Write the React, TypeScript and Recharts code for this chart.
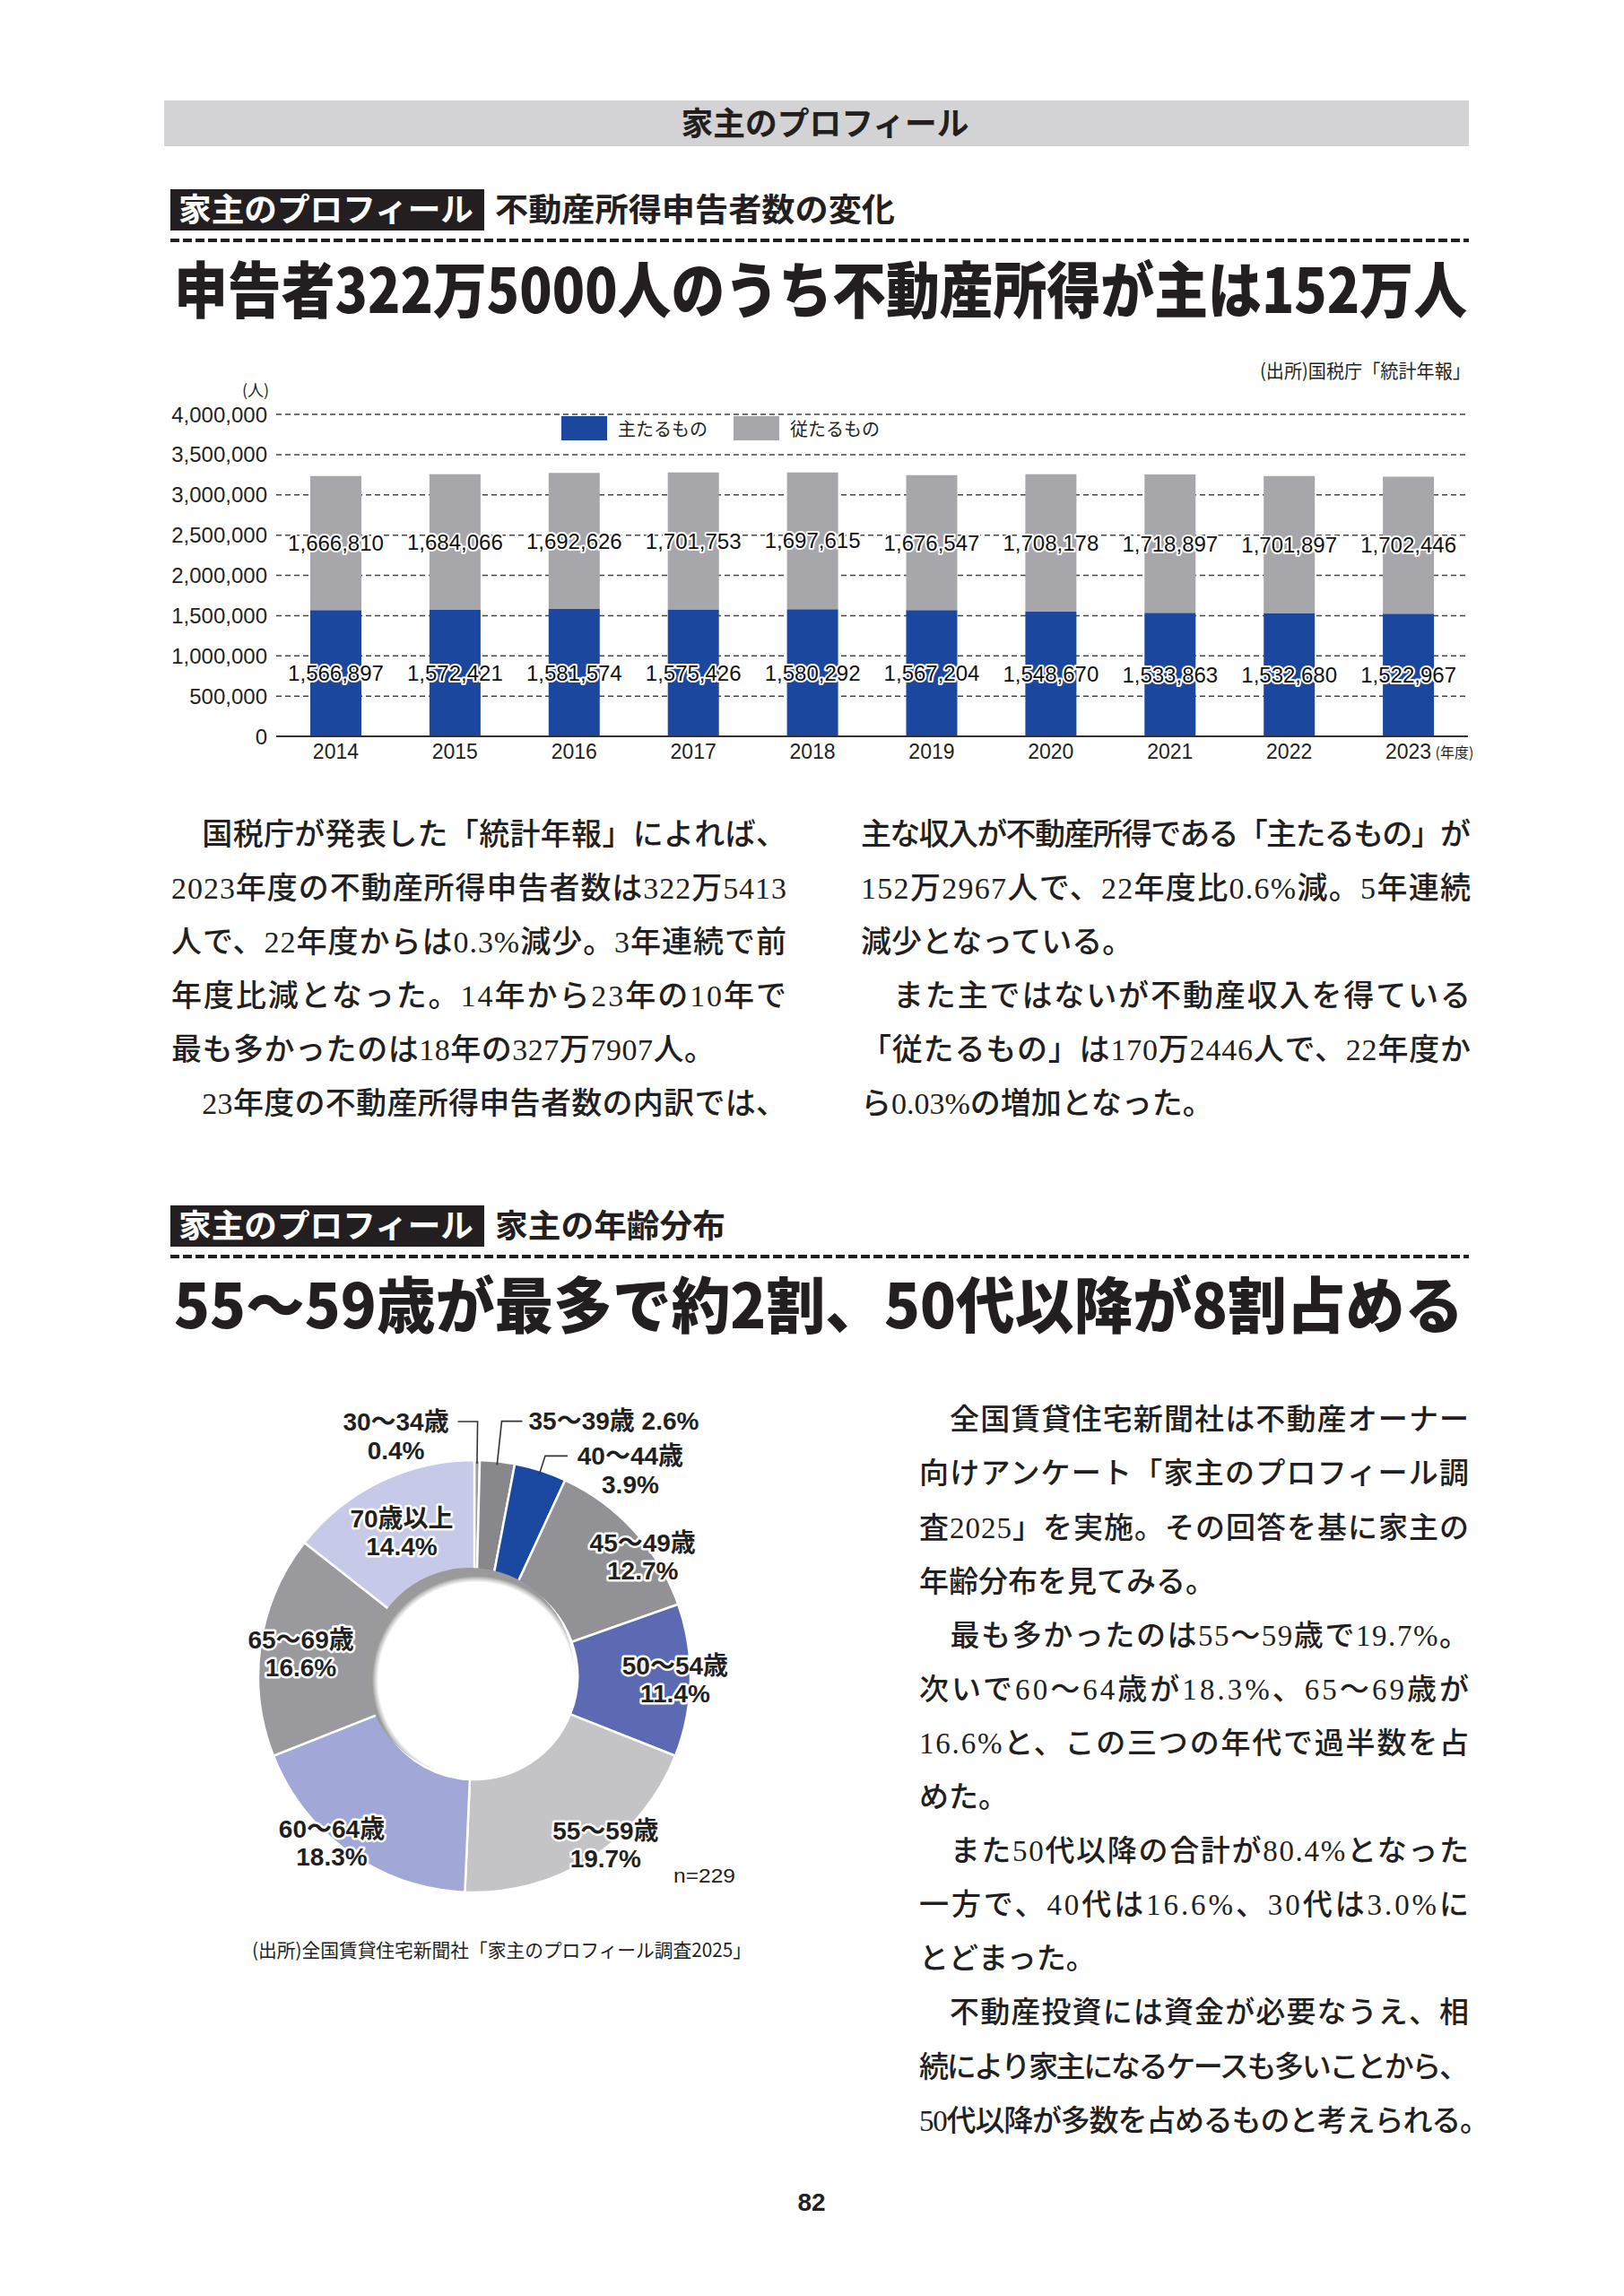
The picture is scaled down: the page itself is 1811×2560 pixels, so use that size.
import React from 'react';
import {
  BarChart, Bar, XAxis, YAxis, CartesianGrid, LabelList, Legend,
  PieChart, Pie, Cell,
} from 'recharts';

// ---------- data ----------
const years = ['2014', '2015', '2016', '2017', '2018', '2019', '2020', '2021', '2022', '2023'];
const mainIncome = [1566897, 1572421, 1581574, 1575426, 1580292, 1567204, 1548670, 1533863, 1532680, 1522967];
const subIncome = [1666810, 1684066, 1692626, 1701753, 1697615, 1676547, 1708178, 1718897, 1701897, 1702446];
const yTicks = [0, 500000, 1000000, 1500000, 2000000, 2500000, 3000000, 3500000, 4000000];
const seriesNames = ['主たるもの', '従たるもの'];

const ageGroups = ['30〜34歳', '35〜39歳', '40〜44歳', '45〜49歳', '50〜54歳', '55〜59歳', '60〜64歳', '65〜69歳', '70歳以上'];
const agePct = [0.4, 2.6, 3.9, 12.7, 11.4, 19.7, 18.3, 16.6, 14.4];

// ---------- text ----------
const pageTitle = '家主のプロフィール';
const tagText = '家主のプロフィール';
const sub1 = '不動産所得申告者数の変化';
const head1 = '申告者322万5000人のうち不動産所得が主は152万人';
const src1 = '(出所)国税庁「統計年報」';
const sub2 = '家主の年齢分布';
const head2 = '55〜59歳が最多で約2割、50代以降が8割占める';
const src2 = '(出所)全国賃貸住宅新聞社「家主のプロフィール調査2025」';
const nText = 'n=229';
const pageNo = '82';

const s1Left = [
  '　国税庁が発表した「統計年報」によれば、',
  '2023年度の不動産所得申告者数は322万5413',
  '人で、22年度からは0.3%減少。3年連続で前',
  '年度比減となった。14年から23年の10年で',
  '最も多かったのは18年の327万7907人。',
  '　23年度の不動産所得申告者数の内訳では、',
];
const s1Right = [
  '主な収入が不動産所得である「主たるもの」が',
  '152万2967人で、22年度比0.6%減。5年連続',
  '減少となっている。',
  '　また主ではないが不動産収入を得ている',
  '「従たるもの」は170万2446人で、22年度か',
  'ら0.03%の増加となった。',
];
const s2Right = [
  '　全国賃貸住宅新聞社は不動産オーナー',
  '向けアンケート「家主のプロフィール調',
  '査2025」を実施。その回答を基に家主の',
  '年齢分布を見てみる。',
  '　最も多かったのは55〜59歳で19.7%。',
  '次いで60〜64歳が18.3%、65〜69歳が',
  '16.6%と、この三つの年代で過半数を占',
  'めた。',
  '　また50代以降の合計が80.4%となった',
  '一方で、40代は16.6%、30代は3.0%に',
  'とどまった。',
  '　不動産投資には資金が必要なうえ、相',
  '続により家主になるケースも多いことから、',
  '50代以降が多数を占めるものと考えられる。',
];

// ---------- layout / style ----------
// 0 = natural width (paragraph end)
const s1LeftLens = [686, 686, 686, 686, 606, 686];
const s1RightLens = [680, 680, 0, 680, 680, 0];
const s2RightLens = [613, 613, 613, 0, 613, 613, 613, 0, 613, 613, 0, 613, 613, 636];

const BLUE = '#1b479f';
const GRAY = '#a7a7ab';
const PIE_COLORS = ['#9c9ca0', '#88888c', '#1b48a0', '#929296', '#5b6ab3', '#c4c4c7', '#a1a7d6', '#9a9a9e', '#c6c9e8'];
const INK = '#231f20';
const GOTHIC = "'Noto Sans CJK JP', sans-serif";
const BODY = "'Liberation Serif', 'Noto Sans CJK JP', serif";
const LATIN = "'Liberation Sans', 'Noto Sans CJK JP', sans-serif";

const barData = years.map((y, i) => ({ year: y, main: mainIncome[i], sub: subIncome[i] }));
const pieData = ageGroups.map((n, i) => ({ name: n, value: agePct[i] }));

const fmt = (v: number) => Number(v).toLocaleString('en-US');

// label layout for the donut
const insideLayout: Record<number, { r: number; da: number }> = {
  3: { r: 230, da: -7 },
  4: { r: 224, da: 0 },
  5: { r: 238, da: 5 },
  6: { r: 245, da: -5 },
  7: { r: 195, da: 1 },
  8: { r: 179, da: 1 },
};
const outsideLayout: Record<number, { elbowR: number; dir: number; run: number; gap: number; half: number; single?: boolean }> = {
  0: { elbowR: 284, dir: -1, run: 22, gap: 10, half: 59 },
  1: { elbowR: 286, dir: 1, run: 23, gap: 7, half: 0, single: true },
  2: { elbowR: 258, dir: 1, run: 25, gap: 11, half: 59 },
};

type TP = {
  x: number; y: number; s: number; w?: number; f?: string; c?: string;
  len?: number; adj?: string; anchor?: string; children: React.ReactNode;
};
function T({ x, y, s, w = 400, f = GOTHIC, c = INK, len, adj = 'spacing', anchor = 'start', children }: TP) {
  const L = len && len > 0 ? len : undefined;
  return (
    <text
      x={x}
      y={y}
      fontSize={s}
      fontWeight={w}
      fontFamily={f}
      fill={c}
      textAnchor={anchor as any}
      textLength={L}
      lengthAdjust={L ? (adj as any) : undefined}
    >
      {children}
    </text>
  );
}

const RAD = Math.PI / 180;
const pieTextStyle = {
  fontFamily: LATIN,
  fontWeight: 700,
  fontSize: 28,
  fill: INK,
  stroke: '#ffffff',
  strokeWidth: 5,
  paintOrder: 'stroke',
  strokeLinejoin: 'round',
} as any;

function renderPieLabel(props: any) {
  const { cx, cy, midAngle, index, name, value } = props;
  const pct = `${Number(value).toFixed(1)}%`;
  if (insideLayout[index]) {
    const { r, da } = insideLayout[index];
    const a = (midAngle + da) * RAD;
    const x = cx + r * Math.cos(a);
    const y = cy - r * Math.sin(a);
    return (
      <g key={`l${index}`}>
        <text x={x} y={y - 15.5} textAnchor="middle" dominantBaseline="central" {...pieTextStyle}>{name}</text>
        <text x={x} y={y + 15.5} textAnchor="middle" dominantBaseline="central" {...pieTextStyle}>{pct}</text>
      </g>
    );
  }
  const o = outsideLayout[index];
  if (!o) return null;
  const a = midAngle * RAD;
  const ex = cx + 237 * Math.cos(a);
  const ey = cy - 237 * Math.sin(a);
  const bx = cx + o.elbowR * Math.cos(a);
  const by = cy - o.elbowR * Math.sin(a);
  const hx = bx + o.dir * o.run;
  const pts = `${ex},${ey} ${bx},${by} ${hx},${by}`;
  if (o.single) {
    return (
      <g key={`l${index}`}>
        <polyline points={pts} fill="none" stroke="#333" strokeWidth={1.6} />
        <text x={hx + o.gap} y={by} textAnchor="start" dominantBaseline="central" {...pieTextStyle}>{`${name} ${pct}`}</text>
      </g>
    );
  }
  const tx = hx + o.dir * (o.gap + o.half);
  return (
    <g key={`l${index}`}>
      <polyline points={pts} fill="none" stroke="#333" strokeWidth={1.6} />
      <text x={tx} y={by} textAnchor="middle" dominantBaseline="central" {...pieTextStyle}>{name}</text>
      <text x={tx} y={by + 32} textAnchor="middle" dominantBaseline="central" {...pieTextStyle}>{pct}</text>
    </g>
  );
}

function renderBarLabel(props: any) {
  const { x, y, width, height, value } = props;
  const cx = Number(x) + Number(width) / 2;
  const cy = Number(y) + Number(height) / 2;
  return (
    <text
      x={cx}
      y={cy}
      textAnchor="middle"
      dominantBaseline="central"
      fontFamily={LATIN}
      fontSize={24}
      fill="#111"
      stroke="#fff"
      strokeWidth={4}
      strokeLinejoin="round"
      style={{ paintOrder: 'stroke' } as any}
    >
      {fmt(value)}
    </text>
  );
}

function YearTick(props: any) {
  const { x, y, payload, index } = props;
  const last = index === years.length - 1;
  return (
    <g>
      <text x={x} y={y + 25} textAnchor="middle" fontFamily={LATIN} fontSize={23} fill={INK}>{payload.value}</text>
      {last && (
        <text x={x + 30} y={y + 24} textAnchor="start" fontFamily={GOTHIC} fontSize={16} fill={INK}>(年度)</text>
      )}
    </g>
  );
}

function LegendBox(props: any) {
  const { payload } = props;
  return (
    <div style={{ display: 'flex', alignItems: 'center', fontFamily: GOTHIC, fontSize: 20, color: INK, whiteSpace: 'nowrap' }}>
      {(payload || []).map((p: any, i: number) => (
        <div key={i} style={{ display: 'flex', alignItems: 'center', marginRight: i === 0 ? 29 : 0 }}>
          <div style={{ width: 51, height: 27, background: p.color, marginRight: 12 }} />
          <span style={{ lineHeight: '27px' }}>{p.value}</span>
        </div>
      ))}
    </div>
  );
}

export default function App() {
  const s1y = (i: number) => 929 + 60 * i + 12.6;
  const s2y = (i: number) => 1582 + 60.1 * i + 12.3;
  return (
    <div style={{ position: 'absolute', left: 0, top: 0, width: 1811, height: 2560, background: '#fff', overflow: 'hidden' }}>
      {/* page text & decorations */}
      <svg width={1811} height={2560} style={{ position: 'absolute', left: 0, top: 0 }}>
        <rect x={183} y={112} width={1455} height={51} fill="#d3d3d5" />
        <T x={920} y={151} s={36} w={700} len={321} adj="spacingAndGlyphs" anchor="middle">{pageTitle}</T>

        {/* section 1 */}
        <rect x={190} y={211} width={350} height={46} fill={INK} />
        <T x={199} y={247} s={36} w={700} c="#fff" len={329} adj="spacingAndGlyphs">{tagText}</T>
        <T x={552} y={247} s={36} w={700} len={446} adj="spacingAndGlyphs">{sub1}</T>
        <line x1={190} y1={268} x2={1638} y2={268} stroke={INK} strokeWidth={4} strokeDasharray="10 4" />
        <T x={194} y={349} s={68} w={900} len={1442} adj="spacingAndGlyphs">{head1}</T>
        <T x={1405} y={421} s={21} w={400} len={235} adj="spacingAndGlyphs">{src1}</T>
        <T x={285} y={442} s={18} anchor="middle">(人)</T>

        {s1Left.map((t, i) => (
          <T key={`a${i}`} x={191} y={s1y(i)} s={34} w={500} f={BODY} len={s1LeftLens[i]}>{t}</T>
        ))}
        {s1Right.map((t, i) => (
          <T key={`b${i}`} x={960} y={s1y(i)} s={34} w={500} f={BODY} len={s1RightLens[i]}>{t}</T>
        ))}

        {/* section 2 */}
        <rect x={190} y={1344} width={350} height={46} fill={INK} />
        <T x={199} y={1380} s={36} w={700} c="#fff" len={329} adj="spacingAndGlyphs">{tagText}</T>
        <T x={552} y={1380} s={36} w={700} len={257} adj="spacingAndGlyphs">{sub2}</T>
        <line x1={190} y1={1401} x2={1638} y2={1401} stroke={INK} strokeWidth={4} strokeDasharray="10 4" />
        <T x={194} y={1481} s={68} w={900} len={1438} adj="spacingAndGlyphs">{head2}</T>

        {s2Right.map((t, i) => (
          <T key={`c${i}`} x={1025} y={s2y(i)} s={33} w={500} f={BODY} len={s2RightLens[i]}>{t}</T>
        ))}

        <T x={751} y={2099} s={22} f={LATIN} len={69} adj="spacingAndGlyphs">{nText}</T>
        <T x={281} y={2182} s={21} len={557} adj="spacingAndGlyphs">{src2}</T>
        <T x={905} y={2465} s={28} w={700} f={LATIN} anchor="middle">{pageNo}</T>
      </svg>

      {/* bar chart */}
      <div style={{ position: 'absolute', left: 180, top: 400, width: 1480, height: 480 }}>
        <BarChart width={1480} height={480} data={barData} margin={{ top: 62, right: 23, bottom: 19, left: 0 }}>
          <CartesianGrid vertical={false} stroke="#444" strokeWidth={1.5} strokeDasharray="6 4" />
          <XAxis
            dataKey="year"
            interval={0}
            tickSize={0}
            tickMargin={0}
            height={40}
            axisLine={{ stroke: '#333', strokeWidth: 2 }}
            tickLine={false}
            tick={<YearTick />}
          />
          <YAxis
            domain={[0, 4000000]}
            ticks={yTicks}
            interval={0}
            width={128}
            tickSize={0}
            tickMargin={10}
            axisLine={false}
            tickLine={false}
            tickFormatter={fmt}
            tick={{ fontSize: 24, fill: INK, fontFamily: LATIN }}
          />
          <Legend
            content={<LegendBox />}
            layout="horizontal"
            verticalAlign="middle"
            align="center"
            wrapperStyle={{ top: 64, left: 446, width: 'auto', height: 27 }}
          />
          <Bar dataKey="main" name={seriesNames[0]} stackId="s" fill={BLUE} barSize={57} isAnimationActive={false}>
            <LabelList dataKey="main" content={renderBarLabel} />
          </Bar>
          <Bar dataKey="sub" name={seriesNames[1]} stackId="s" fill={GRAY} barSize={57} isAnimationActive={false}>
            <LabelList dataKey="sub" content={renderBarLabel} />
          </Bar>
        </BarChart>
      </div>

      {/* donut chart */}
      <div style={{ position: 'absolute', left: 224, top: 1524, width: 600, height: 640 }}>
        <PieChart width={600} height={640}>
          <Pie
            data={pieData}
            dataKey="value"
            nameKey="name"
            cx={300}
            cy={340}
            innerRadius={115}
            outerRadius={241}
            startAngle={90}
            endAngle={-270}
            stroke="#ffffff"
            strokeWidth={2.5}
            label={renderPieLabel}
            labelLine={false}
            isAnimationActive={false}
          >
            {pieData.map((d, i) => (
              <Cell key={d.name} fill={PIE_COLORS[i]} />
            ))}
          </Pie>
        </PieChart>
        <svg width={600} height={640} style={{ position: 'absolute', left: 0, top: 0, pointerEvents: 'none' }}>
          <defs>
            <radialGradient id="holeShade" cx="0.53" cy="0.54" r="0.5">
              <stop offset="0.94" stopColor="#ffffff" />
              <stop offset="0.975" stopColor="#cacaca" />
              <stop offset="1" stopColor="#9a9a9a" />
            </radialGradient>
          </defs>
          <circle cx={300} cy={340} r={116} fill="url(#holeShade)" />
        </svg>
      </div>
    </div>
  );
}
